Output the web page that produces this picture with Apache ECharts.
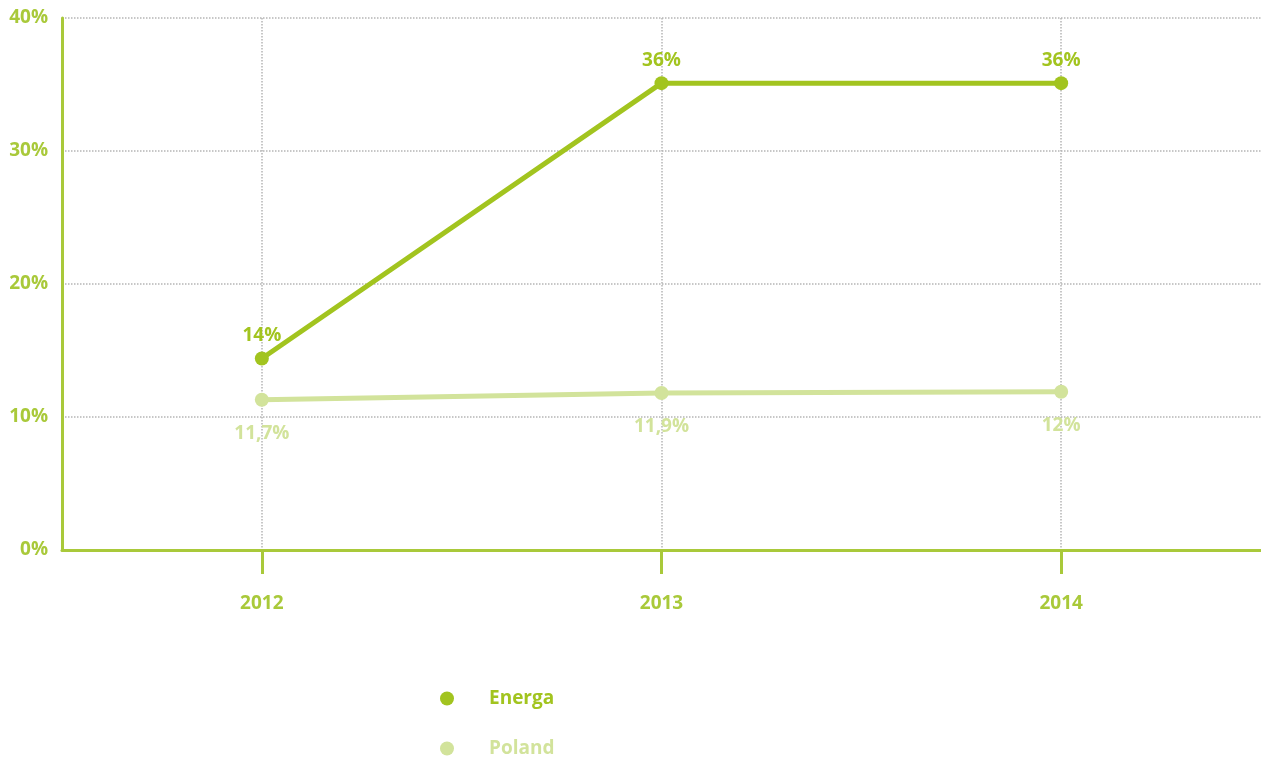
<!DOCTYPE html>
<html>
<head>
<meta charset="utf-8">
<script src="https://cdn.jsdelivr.net/npm/echarts@6/dist/echarts.min.js"></script>
<style>
html,body{margin:0;padding:0;background:#fff;}
#chart{width:1261px;height:758px;}
</style>
</head>
<body>
<div id="chart"></div>
<script>
var categories = ['2012', '2013', '2014'];
var energaValues = [14.4, 35.1, 35.1];
var energaLabels = ['14%', '36%', '36%'];
var polandValues = [11.3, 11.8, 11.9];
var polandLabels = ['11,7%', '11,9%', '12%'];
var yTicks = [0, 10, 20, 30, 40];

var green = '#a2c41f';
var light = '#d2e39b';
var axisGreen = '#a9c93a';
var font = 'Open Sans';
var fs = 19;

function legendBlock(name, color, top) {
  return {
    left: 435, top: top, orient: 'vertical',
    icon: 'circle', itemWidth: 14, itemHeight: 14,
    textStyle: {fontFamily: font, fontWeight: 'bold', fontSize: fs, color: color, padding: [0, 0, 0, 30]},
    data: [name]
  };
}

var chart = echarts.init(document.getElementById('chart'));
chart.setOption({
  animation: false,
  grid: {left: 62, right: 0, top: 18, bottom: 208, containLabel: false},
  legend: [legendBlock('Energa', green, 684), legendBlock('Poland', light, 734)],
  xAxis: {
    type: 'category', data: categories, boundaryGap: true,
    axisLine: {show: true, lineStyle: {color: axisGreen, width: 3}},
    axisTick: {show: true, alignWithLabel: true, length: 24, lineStyle: {color: axisGreen, width: 3}},
    axisLabel: {margin: 44, color: axisGreen, fontFamily: font, fontWeight: 'bold', fontSize: fs},
    splitLine: {show: true, alignWithLabel: true, lineStyle: {color: '#b5b5b5', type: 'dotted', width: 1.5}}
  },
  yAxis: {
    type: 'value', min: yTicks[0], max: yTicks[yTicks.length - 1], interval: 10,
    axisLine: {show: true, lineStyle: {color: axisGreen, width: 3}},
    axisTick: {show: false},
    axisLabel: {margin: 14, color: axisGreen, fontFamily: font, fontWeight: 'bold', fontSize: fs,
      formatter: function (v) { return v + '%'; }},
    splitLine: {show: true, lineStyle: {color: '#b5b5b5', type: 'dotted', width: 1.5}}
  },
  series: [
    {
      name: 'Energa', type: 'line', data: energaValues,
      symbol: 'circle', symbolSize: 14, z: 3,
      itemStyle: {color: green}, lineStyle: {color: green, width: 5},
      label: {show: true, position: 'top', distance: 6, color: green,
        fontFamily: font, fontWeight: 'bold', fontSize: fs,
        formatter: function (p) { return energaLabels[p.dataIndex]; }}
    },
    {
      name: 'Poland', type: 'line', data: polandValues,
      symbol: 'circle', symbolSize: 14, z: 2,
      itemStyle: {color: light}, lineStyle: {color: light, width: 5},
      label: {show: true, position: 'bottom', distance: 17, color: light,
        fontFamily: font, fontWeight: 'bold', fontSize: fs,
        formatter: function (p) { return polandLabels[p.dataIndex]; }}
    }
  ]
});
</script>
</body>
</html>
